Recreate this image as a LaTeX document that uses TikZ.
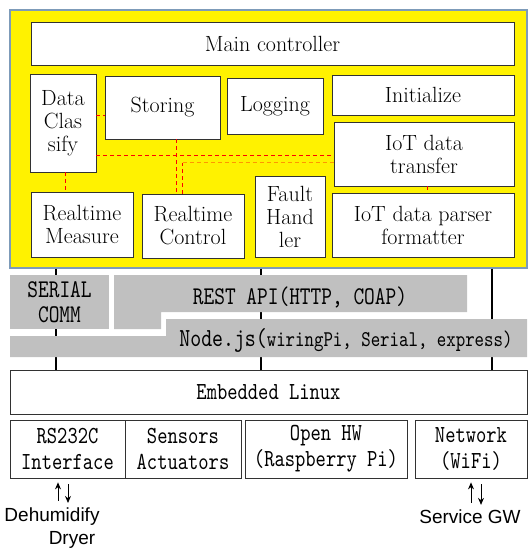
\documentclass[tikz,border=0pt]{standalone}
\usepackage{fontspec}
\usetikzlibrary{arrows.meta}
\newfontfamily\monofont[FakeStretch=0.8]{lmmono10-regular.otf}
\newfontfamily\labelfont{Liberation Sans}
\definecolor{frame}{RGB}{125,155,185}
\definecolor{panel}{RGB}{192,192,192}
\definecolor{boxline}{RGB}{50,50,50}
\definecolor{dashred}{RGB}{255,0,0}
\definecolor{dashorange}{RGB}{255,150,0}

\tikzset{
  modbox/.style={draw=boxline, fill=white, line width=0.9pt, align=center, inner sep=0pt,
    font=\fontsize{22}{23}\selectfont},
  hwbox/.style={draw=boxline, fill=white, line width=0.8pt, align=center, inner sep=0pt,
    font=\monofont\fontsize{24.5}{26}\selectfont},
  paneltext/.style={align=center, inner sep=0pt, font=\monofont\fontsize{25.5}{24.5}\selectfont},
  link/.style={draw=dashred, line width=1pt, dash pattern=on 4pt off 3pt},
  bus/.style={black, line width=1.2pt},
  iolink/.style={line width=0.8pt, shorten <=4pt, shorten >=6pt, {Stealth[length=7pt,width=6pt]}-},
  ext/.style={inner sep=1pt, font=\labelfont\fontsize{19}{22}\selectfont},
}

\begin{document}
\begin{tikzpicture}[x=1pt, y=-1pt]
\useasboundingbox (0,0) rectangle (528,551);

% controller board
\node[draw=frame, fill=yellow, line width=1.2pt, minimum width=517pt, minimum height=258pt] (board) at (268.5,139) {};
\node[modbox, minimum width=483pt, minimum height=43pt] (main) at (272.5,43.5) {Main controller};
\node[modbox, minimum width=66pt, minimum height=98pt] (clasify) at (63,123) {Data\\Clas\\sify};
\node[modbox, minimum width=115pt, minimum height=63pt] (storing) at (162.5,107.5) {Storing};
\node[modbox, minimum width=96pt, minimum height=56pt] (logging) at (275,106) {Logging};
\node[modbox, minimum width=182pt, minimum height=40pt] (init) at (423,95) {Initialize};
\node[modbox, minimum width=180pt, minimum height=64pt] (transfer) at (424,154) {IoT data\\transfer};
\node[modbox, minimum width=102pt, minimum height=65pt] (measure) at (82,224.5) {Realtime\\Measure};
\node[modbox, minimum width=102pt, minimum height=64pt] (control) at (193,226) {Realtime\\Control};
\node[modbox, minimum width=70pt, minimum height=81pt] (fault) at (290,216.5) {Fault\\Hand\\ler};
\node[modbox, minimum width=182pt, minimum height=64pt] (parser) at (423,225) {IoT data parser\\formatter};

% dashed links
\draw[link] (clasify.east |- 0,115.5) -- (storing.west |- 0,115.5);
\draw[link] (clasify.east |- 0,155.5) -- (transfer.west |- 0,155.5);
\draw[link] (storing.south -| 176.5,0) -- (control.north -| 176.5,0);
\draw[link] (control.north -| 182.5,0) -- (182.5,162.5);
\draw[link, draw=dashorange] (182.5,162.5) -- (transfer.west |- 0,162.5);
\draw[link] (clasify.south -| 65.5,0) -- (measure.north -| 65.5,0);
\draw[link] (transfer.south -| 427.5,0) -- (parser.north -| 427.5,0);

% linux and buses
\node[hwbox, minimum width=517pt, minimum height=44pt] (linux) at (268.5,392) {Embedded Linux};
\draw[bus] (board.south -| 56,0) -- (linux.north -| 56,0);
\draw[bus] (board.south -| 261,0) -- (linux.north -| 261,0);
\draw[bus] (board.south -| 492,0) -- (linux.north -| 492,0);

% middleware
\node[fill=panel, minimum width=99pt, minimum height=54pt, paneltext] (serial) at (59.5,302) {SERIAL\\COMM};
\fill[panel] (114,275) -- (467,275) -- (467,312) -- (161,312) -- (161,329) -- (114,329) -- cycle;
\node[paneltext] (rest) at (300,297) {REST API(HTTP, COAP)};
\fill[panel] (166,319) -- (527,319) -- (527,357) -- (10,357) -- (10,336) -- (166,336) -- cycle;
\node[paneltext] (nodejs) at (346,340) {{\fontsize{26}{26}\selectfont Node.js(}{\fontsize{22.5}{26}\selectfont wiringPi, Serial, express)}};

% hardware
\node[hwbox, minimum width=115pt, minimum height=58pt] (rs232) at (67.5,449) {RS232C\\Interface};
\node[hwbox, minimum width=116pt, minimum height=58pt] (sensors) at (183,449) {Sensors\\Actuators};
\node[hwbox, minimum width=162pt, minimum height=58pt] (openhw) at (326,449) {Open HW\\(Raspberry Pi)};
\node[hwbox, minimum width=112pt, minimum height=58pt] (network) at (471,449) {Network\\(WiFi)};

% outside
\node[ext] (dehum) at (52,517) {Dehumidify};
\node[ext] (dryer) at (72,540) {Dryer};
\node[ext] (gw) at (470,517) {Service GW};
\draw[iolink] (rs232.south -| 58,0) -- (dehum.north -| 58,0);
\draw[iolink] (dehum.north -| 68,0) -- (rs232.south -| 68,0);
\draw[iolink] (network.south -| 471,0) -- (gw.north -| 471,0);
\draw[iolink] (gw.north -| 481,0) -- (network.south -| 481,0);
\end{tikzpicture}
\end{document}
